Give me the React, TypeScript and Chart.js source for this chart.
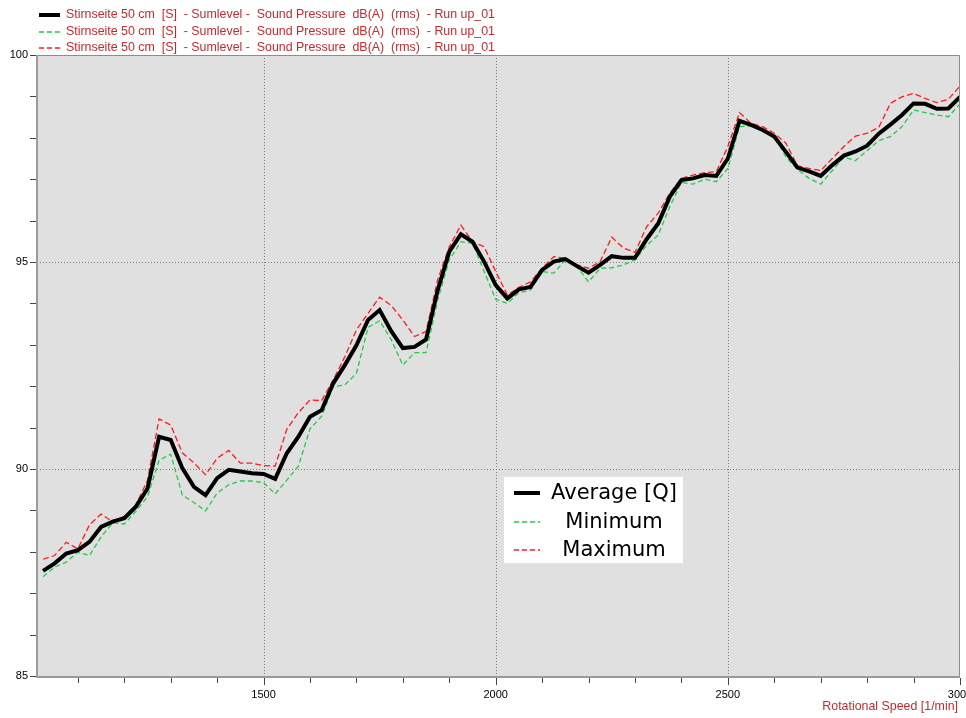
import React, { useEffect, useRef } from "react";
import { Chart, registerables } from "chart.js";

Chart.register(...registerables);

const rpm = [
  1025, 1050, 1075, 1100, 1125, 1150, 1175, 1200, 1225, 1250,
  1275, 1300, 1325, 1350, 1375, 1400, 1425, 1450, 1475, 1500,
  1525, 1550, 1575, 1600, 1625, 1650, 1675, 1700, 1725, 1750,
  1775, 1800, 1825, 1850, 1875, 1900, 1925, 1950, 1975, 2000,
  2025, 2050, 2075, 2100, 2125, 2150, 2175, 2200, 2225, 2250,
  2275, 2300, 2325, 2350, 2375, 2400, 2425, 2450, 2475, 2500,
  2525, 2550, 2575, 2600, 2625, 2650, 2675, 2700, 2725, 2750,
  2775, 2800, 2825, 2850, 2875, 2900, 2925, 2950, 2975, 3000,
];

const average = [
  87.54, 87.72, 87.96, 88.04, 88.24, 88.6, 88.73, 88.81, 89.09, 89.53,
  90.78, 90.7, 90.02, 89.57, 89.37, 89.78, 89.98, 89.94, 89.9, 89.88,
  89.76, 90.38, 90.78, 91.26, 91.42, 92.07, 92.51, 92.99, 93.6, 93.84,
  93.33, 92.92, 92.95, 93.13, 94.32, 95.25, 95.67, 95.49, 95.01, 94.44,
  94.12, 94.34, 94.4, 94.81, 95.01, 95.07, 94.9, 94.74, 94.93, 95.14,
  95.1, 95.1, 95.55, 95.93, 96.58, 96.98, 97.02, 97.1, 97.08, 97.5,
  98.41, 98.31, 98.19, 98.03, 97.66, 97.28, 97.19, 97.08, 97.34, 97.57,
  97.67, 97.81, 98.1, 98.32, 98.55, 98.83, 98.82, 98.7, 98.71, 98.99,
];

const minimum = [
  87.4, 87.63, 87.75, 87.99, 87.91, 88.36, 88.7, 88.67, 88.98, 89.33,
  90.21, 90.36, 89.37, 89.19, 88.99, 89.42, 89.62, 89.71, 89.71, 89.67,
  89.4, 89.73, 90.07, 90.97, 91.27, 91.99, 92.03, 92.31, 93.42, 93.58,
  93.12, 92.51, 92.81, 92.81, 94.08, 95.05, 95.49, 95.45, 94.77, 94.1,
  94.0, 94.26, 94.32, 94.77, 94.73, 95.05, 94.89, 94.52, 94.85, 94.86,
  94.93, 95.05, 95.4, 95.65, 96.34, 96.92, 96.88, 97.0, 96.94, 97.26,
  98.27, 98.29, 98.19, 98.03, 97.54, 97.23, 97.02, 96.88, 97.21, 97.53,
  97.45, 97.69, 97.93, 98.03, 98.27, 98.67, 98.61, 98.55, 98.51, 98.82,
];

const maximum = [
  87.82, 87.91, 88.23, 88.07, 88.65, 88.91, 88.73, 88.85, 89.13, 89.73,
  91.21, 91.06, 90.39, 90.15, 89.86, 90.26, 90.45, 90.14, 90.14, 90.08,
  90.07, 90.96, 91.36, 91.67, 91.65, 92.15, 92.71, 93.36, 93.76, 94.15,
  93.95, 93.6, 93.2, 93.32, 94.57, 95.37, 95.89, 95.49, 95.37, 94.77,
  94.2, 94.39, 94.52, 94.85, 95.13, 95.09, 94.93, 94.85, 95.01, 95.6,
  95.34, 95.23, 95.85, 96.18, 96.66, 97.02, 97.1, 97.16, 97.18, 97.79,
  98.61, 98.35, 98.27, 98.11, 97.87, 97.32, 97.26, 97.21, 97.5, 97.79,
  98.04, 98.11, 98.25, 98.83, 98.99, 99.07, 98.95, 98.85, 98.93, 99.25,
];

const xTickLabels = [1500, 2000, 2500, 3000];
const yTickLabels = [85, 90, 95, 100];
const xMinorTicks = [1100, 1200, 1300, 1400, 1600, 1700, 1800, 1900, 2100, 2200, 2300, 2400, 2600, 2700, 2800, 2900];
const yMinorTicks = [86, 87, 88, 89, 91, 92, 93, 94, 96, 97, 98, 99];

const seriesLabels = ["Average [Q]", "Minimum", "Maximum"];
const headerLabel = "Stirnseite 50 cm  [S]  - Sumlevel -  Sound Pressure  dB(A)  (rms)  - Run up_01";
const xAxisTitle = "Rotational Speed [1/min]";

const COL_AVG = "#000000";
const COL_MIN = "#22cc44";
const COL_MAX = "#ff1a1a";
const COL_TEXT = "#c42a2e";

const decorPlugin = {
  id: "decor",
  beforeDraw(chart: any) {
    const { ctx, chartArea, scales } = chart;
    const { left, right, top, bottom } = chartArea;
    ctx.save();
    ctx.fillStyle = "#ffffff";
    ctx.fillRect(0, 0, chart.width, chart.height);
    ctx.fillStyle = "#e0e0e0";
    ctx.fillRect(left, top, right - left, bottom - top);
    ctx.strokeStyle = "#7a7a7a";
    ctx.lineWidth = 1;
    ctx.setLineDash([1, 2]);
    xTickLabels.forEach((v) => {
      const px = Math.round(scales.x.getPixelForValue(v)) + 0.5;
      if (px < right - 1) {
        ctx.beginPath();
        ctx.moveTo(px, top);
        ctx.lineTo(px, bottom);
        ctx.stroke();
      }
    });
    yTickLabels.forEach((v) => {
      const py = Math.round(scales.y.getPixelForValue(v)) + 0.5;
      if (py > top + 1 && py < bottom - 1) {
        ctx.beginPath();
        ctx.moveTo(left, py);
        ctx.lineTo(right, py);
        ctx.stroke();
      }
    });
    ctx.restore();
  },
  afterDraw(chart: any) {
    const { ctx, chartArea, scales } = chart;
    const { left, right, top, bottom } = chartArea;
    ctx.save();
    ctx.setLineDash([]);
    ctx.strokeStyle = "#8c8c8c";
    ctx.lineWidth = 1;
    ctx.beginPath();
    ctx.moveTo(left, top + 0.5);
    ctx.lineTo(right - 0.5, top + 0.5);
    ctx.lineTo(right - 0.5, bottom);
    ctx.stroke();
    ctx.strokeStyle = "#9a9a9a";
    ctx.lineWidth = 2;
    ctx.beginPath();
    ctx.moveTo(left, top);
    ctx.lineTo(left, bottom + 1);
    ctx.lineTo(right, bottom + 1);
    ctx.stroke();
    ctx.lineWidth = 1;
    ctx.strokeStyle = "#444444";
    xMinorTicks.forEach((v) => {
      const px = Math.round(scales.x.getPixelForValue(v)) + 0.5;
      ctx.beginPath();
      ctx.moveTo(px, bottom + 2);
      ctx.lineTo(px, bottom + 7);
      ctx.stroke();
    });
    xTickLabels.forEach((v) => {
      const px = Math.round(scales.x.getPixelForValue(v)) + 0.5;
      ctx.beginPath();
      ctx.moveTo(px, bottom + 2);
      ctx.lineTo(px, bottom + 9);
      ctx.stroke();
    });
    [...yMinorTicks, ...yTickLabels].forEach((v) => {
      const py = Math.round(scales.y.getPixelForValue(v)) + 0.5;
      ctx.beginPath();
      ctx.moveTo(left - 7, py);
      ctx.lineTo(left - 1, py);
      ctx.stroke();
    });

    const rows = [
      { color: COL_AVG, width: 4, dash: [] as number[], y: 15 },
      { color: COL_MIN, width: 1.3, dash: [5, 3], y: 32 },
      { color: COL_MAX, width: 1.3, dash: [5, 3], y: 48 },
    ];
    ctx.font = "12.4px 'Liberation Sans', Arial, sans-serif";
    ctx.textBaseline = "middle";
    ctx.textAlign = "left";
    rows.forEach((r) => {
      ctx.strokeStyle = r.color;
      ctx.lineWidth = r.width;
      ctx.setLineDash(r.dash);
      ctx.beginPath();
      ctx.moveTo(39, r.y);
      ctx.lineTo(60, r.y);
      ctx.stroke();
      ctx.setLineDash([]);
      ctx.fillStyle = COL_TEXT;
      ctx.fillText(headerLabel, 66, r.y);
    });

    ctx.fillStyle = "#ffffff";
    ctx.fillRect(504, 477, 179, 86);
    const inner = [
      { color: COL_AVG, width: 4, dash: [] as number[], y: 493, label: seriesLabels[0] },
      { color: COL_MIN, width: 1.3, dash: [5, 3], y: 522, label: seriesLabels[1] },
      { color: COL_MAX, width: 1.3, dash: [5, 3], y: 550, label: seriesLabels[2] },
    ];
    ctx.font = "21px 'DejaVu Sans', sans-serif";
    ctx.textAlign = "center";
    inner.forEach((r) => {
      ctx.strokeStyle = r.color;
      ctx.lineWidth = r.width;
      ctx.setLineDash(r.dash);
      ctx.beginPath();
      ctx.moveTo(514, r.y);
      ctx.lineTo(540, r.y);
      ctx.stroke();
      ctx.setLineDash([]);
      ctx.fillStyle = "#000000";
      ctx.fillText(r.label, 614, r.y + 1);
    });

    ctx.font = "12.4px 'Liberation Sans', Arial, sans-serif";
    ctx.textAlign = "right";
    ctx.fillStyle = COL_TEXT;
    ctx.fillText(xAxisTitle, 958, 707);
    ctx.restore();
  },
};

export default function App() {
  const canvasRef = useRef<HTMLCanvasElement | null>(null);

  useEffect(() => {
    if (!canvasRef.current) return;
    const mk = (arr: number[]) => rpm.map((x, i) => ({ x, y: arr[i] }));
    const chart = new Chart(canvasRef.current, {
      type: "line",
      data: {
        datasets: [
          {
            label: seriesLabels[0],
            data: mk(average),
            borderColor: COL_AVG,
            borderWidth: 4,
            pointRadius: 0,
            tension: 0,
            order: 0,
          },
          {
            label: seriesLabels[1],
            data: mk(minimum),
            borderColor: COL_MIN,
            borderWidth: 1.3,
            borderDash: [5, 3],
            pointRadius: 0,
            tension: 0,
            order: 1,
          },
          {
            label: seriesLabels[2],
            data: mk(maximum),
            borderColor: COL_MAX,
            borderWidth: 1.3,
            borderDash: [6, 3],
            pointRadius: 0,
            tension: 0,
            order: 2,
          },
        ],
      },
      options: {
        responsive: false,
        animation: false,
        events: [],
        layout: { padding: { top: 55, right: 6, left: 0, bottom: 0 } },
        plugins: { legend: { display: false }, tooltip: { enabled: false }, title: { display: false } },
        scales: {
          x: {
            type: "linear",
            min: 1012,
            max: 3000,
            grid: { display: false, drawTicks: false },
            border: { display: false },
            ticks: {
              stepSize: 100,
              autoSkip: false,
              maxRotation: 0,
              padding: 12,
              color: "#000000",
              font: { family: "'Liberation Sans', Arial, sans-serif", size: 11 },
              callback: (v: any) => (xTickLabels.includes(Number(v)) ? String(v) : ""),
            },
            afterFit: (s: any) => {
              s.height = 42;
              s.paddingLeft = 0;
              s.paddingRight = 0;
            },
          },
          y: {
            type: "linear",
            min: 85,
            max: 100,
            grid: { display: false, drawTicks: false },
            border: { display: false },
            ticks: {
              stepSize: 5,
              padding: 9,
              color: "#000000",
              font: { family: "'Liberation Sans', Arial, sans-serif", size: 11 },
              callback: (v: any) => (yTickLabels.includes(Number(v)) ? String(v) : ""),
            },
            afterFit: (s: any) => {
              s.width = 37;
              s.paddingTop = 0;
              s.paddingBottom = 0;
            },
          },
        },
      },
      plugins: [decorPlugin],
    });
    return () => chart.destroy();
  }, []);

  return (
    <div style={{ position: "absolute", left: 0, top: 0, width: 966, height: 718, background: "#fff" }}>
      <canvas ref={canvasRef} width={966} height={718} style={{ display: "block" }} />
    </div>
  );
}
